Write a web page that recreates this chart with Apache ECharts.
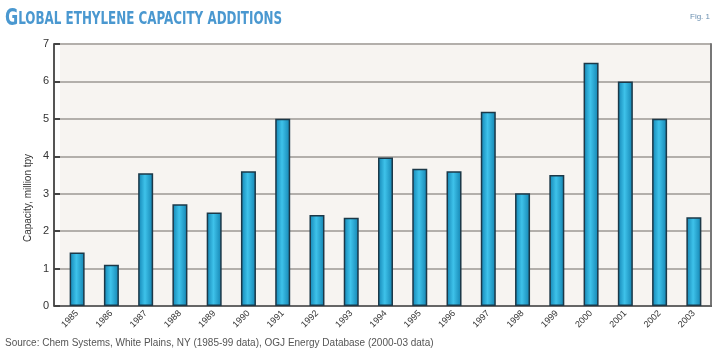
<!DOCTYPE html>
<html>
<head>
<meta charset="utf-8">
<script src="https://cdn.jsdelivr.net/npm/echarts@6/dist/echarts.min.js"></script>
<style>
  html, body { margin: 0; padding: 0; background: #fff; }
  #chart { width: 720px; height: 354px; }
</style>
</head>
<body>
<div id="chart"></div>
<script>
// years on the x axis
var years = ["1985", "1986", "1987", "1988", "1989", "1990", "1991", "1992", "1993", "1994",
  "1995", "1996", "1997", "1998", "1999", "2000", "2001", "2002", "2003"];
// capacity additions, million tpy
var capacity = [1.43, 1.1, 3.55, 2.72, 2.5, 3.6, 5.0, 2.43, 2.36, 3.97,
  3.67, 3.6, 5.19, 3.01, 3.5, 6.5, 6.0, 5.0, 2.37];
var yTicks = [0, 1, 2, 3, 4, 5, 6, 7];

var font = "Liberation Sans";
var chart = echarts.init(document.getElementById("chart"));

var barColor = new echarts.graphic.LinearGradient(0, 0, 1, 0, [
  { offset: 0, color: "#1283b2" },
  { offset: 0.45, color: "#3ec2ea" },
  { offset: 1, color: "#1382b0" }
]);

var option = {
  backgroundColor: "#ffffff",
  animation: false,
  grid: {
    left: 60,
    right: 9,
    top: 44,
    bottom: 48,
    show: true,
    backgroundColor: "#f7f4f1",
    borderWidth: 0
  },
  xAxis: [
    {
      type: "category",
      data: years,
      axisLine: { lineStyle: { color: "#555", width: 2 } },
      axisTick: { show: false },
      axisLabel: {
        rotate: 45,
        margin: 6,
        fontSize: 9,
        fontFamily: font,
        color: "#333"
      }
    },
    {
      type: "category",
      data: years,
      position: "top",
      axisLine: { lineStyle: { color: "#666", width: 2 } },
      axisTick: { show: false },
      axisLabel: { show: false }
    }
  ],
  yAxis: [
    {
      type: "value",
      min: yTicks[0],
      max: yTicks[yTicks.length - 1],
      interval: 1,
      offset: 6,
      axisLine: { show: true, lineStyle: { color: "#555", width: 2 } },
      axisTick: { show: true, inside: true, length: 6, lineStyle: { color: "#444", width: 2 } },
      axisLabel: { fontSize: 11, fontFamily: font, color: "#333", margin: 5 },
      splitLine: { lineStyle: { color: "#b3afab", width: 2 } }
    },
    {
      type: "value",
      min: 0,
      max: 7,
      interval: 1,
      position: "right",
      axisLine: { show: true, lineStyle: { color: "#777", width: 2 } },
      axisTick: { show: false },
      axisLabel: { show: false },
      splitLine: { show: false }
    }
  ],
  graphic: [
    {
      type: "text",
      x: 5,
      y: 8,
      scaleX: 0.78,
      style: {
        text: "{a|G}{b|LOBAL ETHYLENE CAPACITY ADDITIONS}",
        rich: {
          a: { fontFamily: "DejaVu Sans Condensed", fontWeight: "bold", fontSize: 23, fill: "#4a98d0" },
          b: { fontFamily: "DejaVu Sans Condensed", fontWeight: "bold", fontSize: 17, fill: "#4a98d0" }
        }
      }
    },
    {
      type: "text",
      x: 28,
      y: 198,
      rotation: Math.PI / 2,
      style: {
        text: "Capacity, million tpy",
        fontSize: 10,
        fontFamily: font,
        fill: "#333",
        align: "center",
        verticalAlign: "middle"
      }
    },
    {
      type: "text",
      right: 10,
      top: 13,
      style: { text: "Fig. 1", fontSize: 8, fontFamily: font, fill: "#6a8fb0" }
    },
    {
      type: "text",
      left: 5,
      top: 338,
      style: {
        text: "Source: Chem Systems, White Plains, NY (1985-99 data), OGJ Energy Database (2000-03 data)",
        fontSize: 10,
        fontFamily: font,
        fill: "#555"
      }
    }
  ],
  series: [
    {
      name: "Capacity",
      type: "bar",
      data: capacity,
      barWidth: 15,
      itemStyle: {
        color: barColor,
        borderColor: "#1c3848",
        borderWidth: 1.5
      }
    }
  ]
};

chart.setOption(option);
</script>
</body>
</html>
